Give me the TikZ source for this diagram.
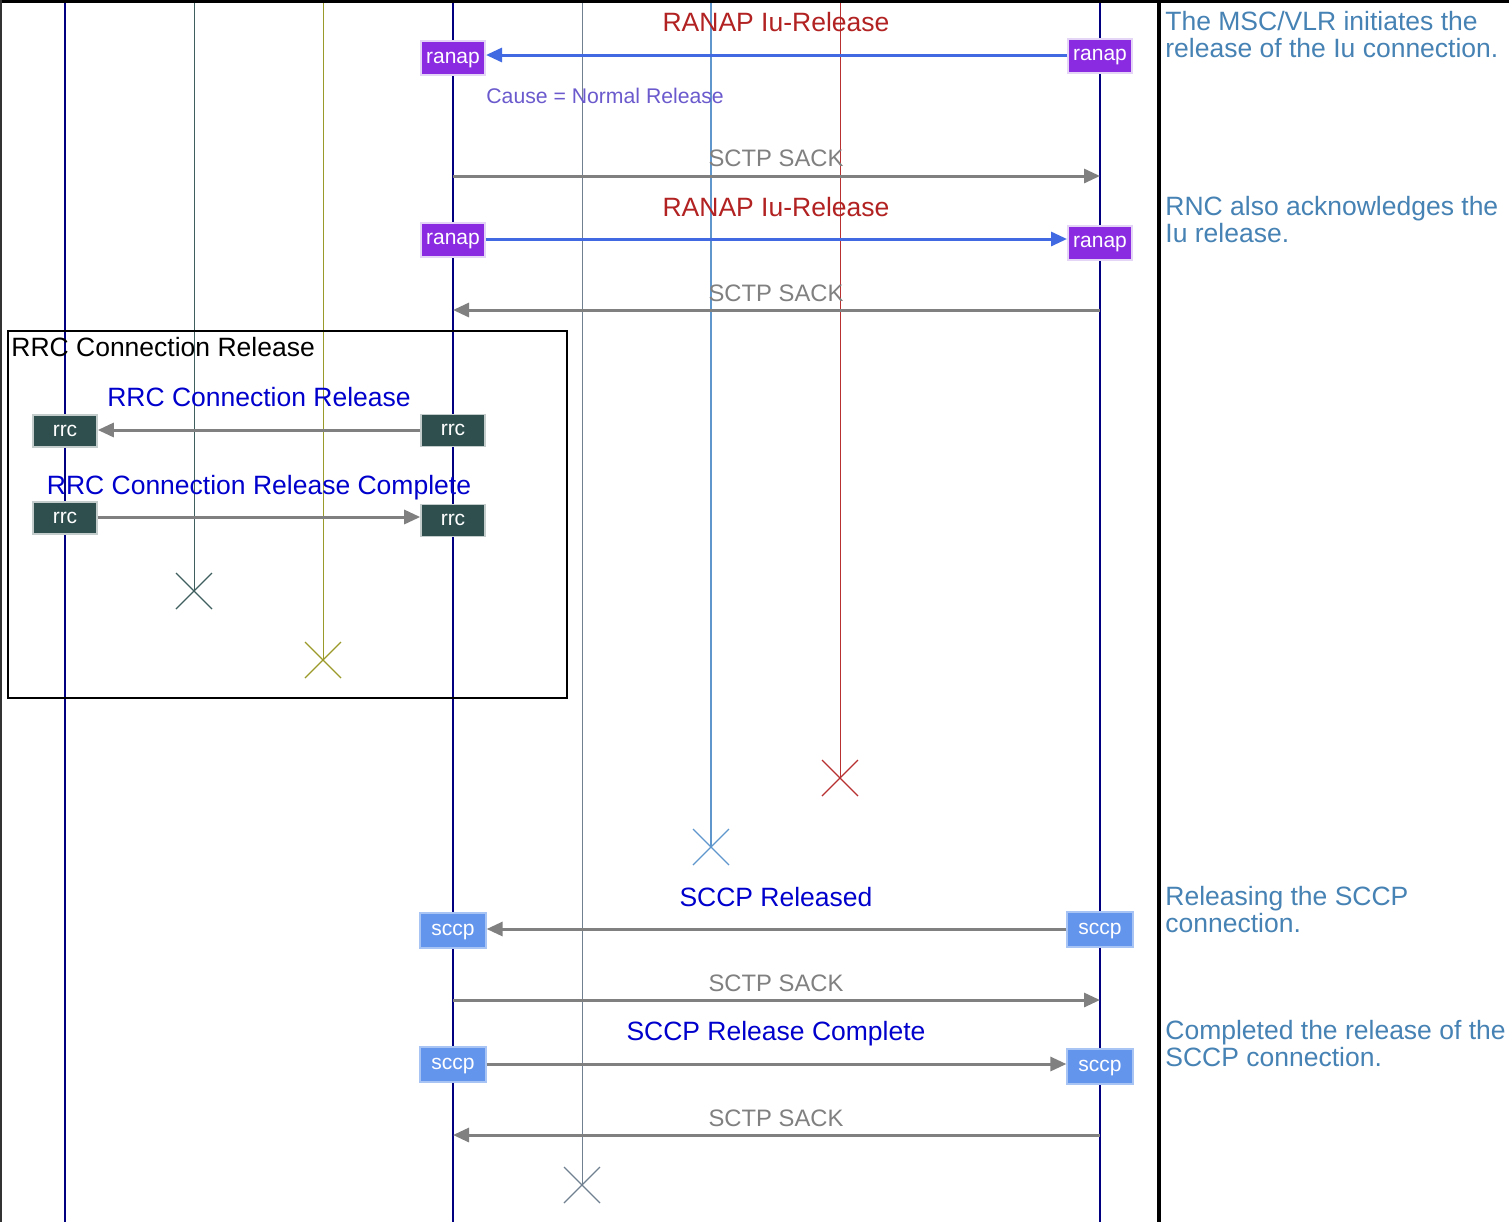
\documentclass[tikz,border=0pt]{standalone}
\usepackage{fontspec}
\setmainfont{Liberation Sans}
\usetikzlibrary{arrows.meta,calc}
\definecolor{navyc}{HTML}{000080}
\definecolor{dsg}{HTML}{2F4F4F}
\definecolor{dsgl}{HTML}{3F5F5F}
\definecolor{olivec}{HTML}{9A9A2A}
\definecolor{slateg}{HTML}{708090}
\definecolor{steelbl}{HTML}{5F96CC}
\definecolor{redl}{HTML}{B83030}
\definecolor{firebrick}{HTML}{B22222}
\definecolor{royalb}{HTML}{4169E1}
\definecolor{slatebl}{HTML}{6A5ACD}
\definecolor{medblue}{HTML}{0000CD}
\definecolor{steelblue}{HTML}{4682B4}
\definecolor{bviolet}{HTML}{8A2BE2}
\definecolor{cfblue}{HTML}{6495ED}
\definecolor{lavbord}{HTML}{E4D4F6}
\definecolor{rrcbord}{HTML}{C4CCCC}
\definecolor{sccpbord}{HTML}{A8C4F4}
\definecolor{grayc}{HTML}{808080}
\begin{document}
\begin{tikzpicture}[x=0.5pt,y=-0.5pt,
  lab/.style={font=\fontsize{13.25}{13.25}\selectfont, inner sep=0, anchor=base},
  msglab/.style={lab, text=medblue},
  ranaplab/.style={lab, text=firebrick},
  sacklab/.style={inner sep=0, anchor=base, text=grayc, font=\fontsize{11.9}{11.9}\selectfont},
  causelab/.style={inner sep=0, anchor=base, text=slatebl, font=\fontsize{10.6}{10.6}\selectfont},
  comment/.style={lab, anchor=base west, align=left, text=steelblue},
  boxbase/.style={minimum width=32pt, minimum height=17pt, inner sep=0, text height=1ex, text depth=0pt, text=white, font=\fontsize{10.5}{10.5}\selectfont},
  ranapbox/.style={boxbase, fill=bviolet, draw=lavbord, line width=1pt},
  rrcbox/.style={boxbase, minimum height=16pt, fill=dsg, draw=rrcbord, line width=0.8pt},
  sccpbox/.style={boxbase, minimum width=33pt, minimum height=17.5pt, fill=cfblue, draw=sccpbord, line width=0.6pt},
  grayarrow/.style={draw=grayc, line width=1.5pt, -{Triangle[length=8pt,width=7pt]}},
  bluearrow/.style={draw=royalb, line width=1.5pt, -{Triangle[length=8pt,width=7pt]}},
  navyline/.style={draw=navyc, line width=1pt},
  thinline/.style={line width=0.5pt},
  xmark/.style={line width=0.6pt},
]
\useasboundingbox (0,0) rectangle (1509,1222);
\fill[white] (0,0) rectangle (1509,1222);

% lifeline coordinates
\coordinate (l1t) at (65,0);   \coordinate (l1b) at (65,1222);
\coordinate (l2t) at (194,0);  \coordinate (l2b) at (194,591);
\coordinate (l3t) at (323,0);  \coordinate (l3b) at (323,660);
\coordinate (l4t) at (453,0);  \coordinate (l4b) at (453,1222);
\coordinate (l5t) at (582,0);  \coordinate (l5b) at (582,1185);
\coordinate (l6t) at (711,0);  \coordinate (l6b) at (711,847);
\coordinate (l7t) at (840,0);  \coordinate (l7b) at (840,778);
\coordinate (l8t) at (1100,0); \coordinate (l8b) at (1100,1222);

% lifelines
\draw[navyline] (l1t) -- (l1b);
\draw[thinline, draw=dsgl] (l2t) -- (l2b);
\draw[thinline, draw=olivec] (l3t) -- (l3b);
\draw[navyline] (l4t) -- (l4b);
\draw[thinline, draw=slateg] (l5t) -- (l5b);
\draw[thinline, draw=steelbl, line width=0.7pt] (l6t) -- (l6b);
\draw[thinline, draw=redl] (l7t) -- (l7b);
\draw[navyline] (l8t) -- (l8b);

% destruction marks
\foreach \c/\col in {l2b/dsgl, l3b/olivec, l5b/slateg, l6b/steelbl, l7b/redl}{
  \draw[xmark, draw=\col] ($(\c)+(-18,-18)$) -- ($(\c)+(18,18)$);
  \draw[xmark, draw=\col] ($(\c)+(-18,18)$) -- ($(\c)+(18,-18)$);
}

% frame lines
\draw[line width=1.5pt] (0,1) -- (1509,1);
\draw[line width=1pt, draw=black!80] (0.5,0) -- (0.5,1222);
\draw[line width=1.6pt] (1159,0) -- (1159,1222);

% ---- message 1: RANAP Iu-Release (CN -> RNC)
\node[ranaplab] (m1) at (776,31) {RANAP Iu-Release};
\node[ranapbox] (r1a) at (453,58) {ranap};
\node[ranapbox] (r1b) at (1100,55.5) {ranap};
\draw[bluearrow] (r1b.west |- 0,55) -- (r1a.east |- 0,55);
\node[causelab, anchor=base west] (cause) at (486,103) {Cause = Normal Release};

% ---- SCTP SACK 1
\node[sacklab] (s1) at (776,166) {SCTP SACK};
\draw[grayarrow] (l4t |- 0,176) -- (l8t |- 0,176);

% ---- message 2: RANAP Iu-Release (RNC -> CN)
\node[ranaplab] (m2) at (776,216) {RANAP Iu-Release};
\node[ranapbox] (r2a) at (453,239.5) {ranap};
\node[ranapbox] (r2b) at (1100,242.5) {ranap};
\draw[bluearrow] (r2a.east |- 0,239) -- (r2b.west |- 0,239);

% ---- SCTP SACK 2
\node[sacklab] (s2) at (776,301) {SCTP SACK};
\draw[grayarrow] (l8t |- 0,310) -- (l4t |- 0,310);

% ---- RRC group box
\draw[line width=1.3pt] (8,331) rectangle (567,698);
\node[lab, anchor=base west, text=black] (grp) at (11,356) {RRC Connection Release};

\node[msglab] (m3) at (259,406) {RRC Connection Release};
\node[rrcbox] (q1a) at (65,431) {rrc};
\node[rrcbox] (q1b) at (453,430.5) {rrc};
\draw[grayarrow] (q1b.west |- 0,430) -- (q1a.east |- 0,430);

\node[msglab] (m4) at (259,494) {RRC Connection Release Complete};
\node[rrcbox] (q2a) at (65,518) {rrc};
\node[rrcbox] (q2b) at (453,520.5) {rrc};
\draw[grayarrow] (q2a.east |- 0,517) -- (q2b.west |- 0,517);

% ---- SCCP Released
\node[msglab] (m5) at (776,906) {SCCP Released};
\node[sccpbox] (c1a) at (453,930.5) {sccp};
\node[sccpbox] (c1b) at (1100,929.5) {sccp};
\draw[grayarrow] (c1b.west |- 0,929) -- (c1a.east |- 0,929);

% ---- SCTP SACK 3
\node[sacklab] (s3) at (776,991) {SCTP SACK};
\draw[grayarrow] (l4t |- 0,1000) -- (l8t |- 0,1000);

% ---- SCCP Release Complete
\node[msglab] (m6) at (776,1040) {SCCP Release Complete};
\node[sccpbox] (c2a) at (453,1064.5) {sccp};
\node[sccpbox] (c2b) at (1100,1066.5) {sccp};
\draw[grayarrow] (c2a.east |- 0,1064) -- (c2b.west |- 0,1064);

% ---- SCTP SACK 4
\node[sacklab] (s4) at (776,1126) {SCTP SACK};
\draw[grayarrow] (l8t |- 0,1135) -- (l4t |- 0,1135);

% ---- comments
\node[comment] (n1) at (1165,57) {The MSC/VLR initiates the\\release of the Iu connection.};
\node[comment] (n2) at (1165,242) {RNC also acknowledges the\\Iu release.};
\node[comment] (n3) at (1165,932) {Releasing the SCCP\\connection.};
\node[comment] (n4) at (1165,1066) {Completed the release of the\\SCCP connection.};
\end{tikzpicture}
\end{document}
